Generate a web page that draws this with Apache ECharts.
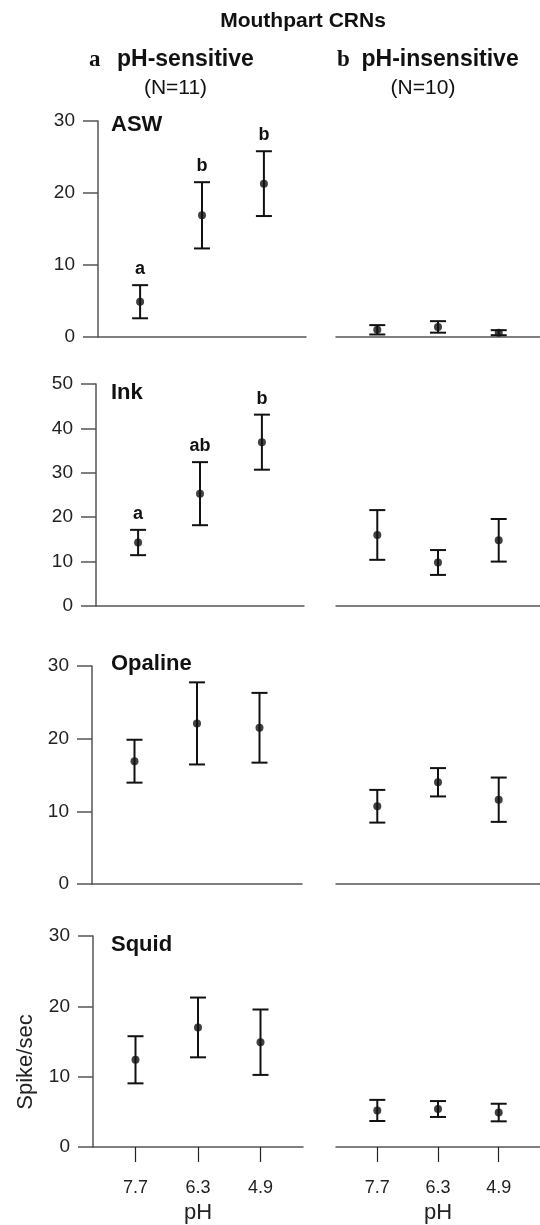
<!DOCTYPE html>
<html>
<head>
<meta charset="utf-8">
<script src="https://cdn.jsdelivr.net/npm/echarts@6/dist/echarts.min.js"></script>
<style>
  html, body { margin: 0; padding: 0; background: #fff; }
  #chart { width: 540px; height: 1225px; }
</style>
</head>
<body>
<div id="chart"></div>
<script>
// data (spike/sec, mean ± SEM)
const phLabels = ['7.7', '6.3', '4.9'];
const stimuli = ['ASW', 'Ink', 'Opaline', 'Squid'];
const yMax = [30, 50, 30, 30];

const sensMean = [[4.9, 16.9, 21.3], [14.3, 25.3, 36.9], [16.9, 22.1, 21.5], [12.4, 17.0, 14.9]];
const sensErr = [[2.3, 4.6, 4.5], [2.85, 7.1, 6.2], [2.95, 5.65, 4.8], [3.35, 4.25, 4.65]];
const sensLetters = [['a', 'b', 'b'], ['a', 'ab', 'b'], [], []];

const insMean = [[1.0, 1.4, 0.6], [16.0, 9.8, 14.8], [10.7, 14.0, 11.6], [5.2, 5.4, 4.9]];
const insErr = [[0.65, 0.8, 0.35], [5.6, 2.8, 4.8], [2.25, 1.95, 3.05], [1.5, 1.13, 1.25]];

// panel geometry
const panelTop = [121, 384, 666, 936];
const panelBottom = [337, 606, 884, 1157];
const leftX = [98, 96, 92, 93];
const leftW = [208, 208, 210, 210];
const rightX = 336;
const rightW = 207;
const titleY = [125, 393, 664, 945];

const FONT = '"Liberation Sans", Arial, Helvetica, sans-serif';
const AXIS_COLOR = '#555';
const INK = '#111';

const chart = echarts.init(document.getElementById('chart'));

function errorBars(letters) {
  return (params, api) => {
    const i = api.value(0);
    const m = api.value(1);
    const e = api.value(2);
    const top = api.coord([i, m + e]);
    const bot = api.coord([i, m - e]);
    const hw = 8;
    const style = { stroke: INK, lineWidth: 2 };
    const children = [
      { type: 'line', shape: { x1: top[0], y1: top[1], x2: bot[0], y2: bot[1] }, style },
      { type: 'line', shape: { x1: top[0] - hw, y1: top[1], x2: top[0] + hw, y2: top[1] }, style },
      { type: 'line', shape: { x1: bot[0] - hw, y1: bot[1], x2: bot[0] + hw, y2: bot[1] }, style },
    ];
    const letter = letters[params.dataIndex];
    if (letter) {
      children.push({
        type: 'text', x: top[0], y: top[1] - 7,
        style: { text: letter, font: 'bold 18px ' + FONT, fill: INK, align: 'center', verticalAlign: 'bottom' },
      });
    }
    return { type: 'group', children };
  };
}

const grids = [], xAxes = [], yAxes = [], series = [];

stimuli.forEach((name, p) => {
  const last = p === stimuli.length - 1;
  [0, 1].forEach((side) => {
    const idx = grids.length;
    grids.push({
      left: side === 0 ? leftX[p] : rightX,
      width: side === 0 ? leftW[p] : rightW,
      top: panelTop[p],
      height: panelBottom[p] - panelTop[p],
    });
    xAxes.push({
      gridIndex: idx,
      type: 'value',
      min: 0.32,
      max: 3.68,
      splitLine: { show: false },
      axisLine: { show: true, onZero: false, lineStyle: { color: AXIS_COLOR, width: 1.5 } },
      axisTick: { show: last, customValues: [1, 2, 3], inside: false, length: 15, lineStyle: { color: '#222', width: 1.2 } },
      axisLabel: {
        show: last, customValues: [1, 2, 3], margin: 32,
        color: '#222', fontSize: 18, fontFamily: FONT,
        formatter: (v) => phLabels[Math.round(v) - 1] || '',
      },
      name: last ? 'pH' : '',
      nameLocation: 'middle',
      nameGap: 55,
      nameTextStyle: { color: '#222', fontSize: 22, fontFamily: FONT },
    });
    yAxes.push({
      gridIndex: idx,
      type: 'value',
      min: 0,
      max: yMax[p],
      interval: 10,
      show: side === 0,
      splitLine: { show: false },
      axisLine: { show: true, onZero: false, lineStyle: { color: AXIS_COLOR, width: 1.5 } },
      axisTick: { show: true, inside: false, length: 15, lineStyle: { color: AXIS_COLOR, width: 1.5 } },
      axisLabel: { margin: 23, color: '#222', fontSize: 19, fontFamily: FONT },
    });
    const means = side === 0 ? sensMean[p] : insMean[p];
    const errs = side === 0 ? sensErr[p] : insErr[p];
    const letters = side === 0 ? sensLetters[p] : [];
    series.push({
      type: 'custom',
      xAxisIndex: idx,
      yAxisIndex: idx,
      renderItem: errorBars(letters),
      data: means.map((m, i) => [i + 1, m, errs[i]]),
      silent: true,
      z: 2,
    });
    series.push({
      type: 'scatter',
      xAxisIndex: idx,
      yAxisIndex: idx,
      symbol: 'circle',
      symbolSize: 8,
      itemStyle: { color: INK },
      data: means.map((m, i) => [i + 1, m]),
      silent: true,
      z: 3,
    });
  });
});

const text = (t, x, y, font, align) => ({
  type: 'text', x, y,
  style: { text: t, font, fill: INK, align: align || 'left', verticalAlign: 'middle' },
});

const graphics = [
  text('Mouthpart CRNs', 303, 21, 'bold 21px ' + FONT, 'center'),
  text('a', 89, 60, 'bold 23px "Liberation Serif", "Times New Roman", serif'),
  text('pH-sensitive', 117, 60, 'bold 23px ' + FONT),
  text('(N=11)', 175.5, 88, '21px ' + FONT, 'center'),
  text('b', 337, 60, 'bold 23px "Liberation Serif", "Times New Roman", serif'),
  text('pH-insensitive', 361.5, 60, 'bold 23px ' + FONT),
  text('(N=10)', 423, 88, '21px ' + FONT, 'center'),
  {
    type: 'text', x: 26, y: 1062, rotation: Math.PI / 2,
    style: { text: 'Spike/sec', font: '22px ' + FONT, fill: '#222', align: 'center', verticalAlign: 'middle' },
  },
];
stimuli.forEach((name, p) => graphics.push(text(name, 111, titleY[p], 'bold 22px ' + FONT)));

chart.setOption({
  backgroundColor: '#fff',
  animation: false,
  grid: grids,
  xAxis: xAxes,
  yAxis: yAxes,
  series,
  graphic: graphics,
});
</script>
</body>
</html>
